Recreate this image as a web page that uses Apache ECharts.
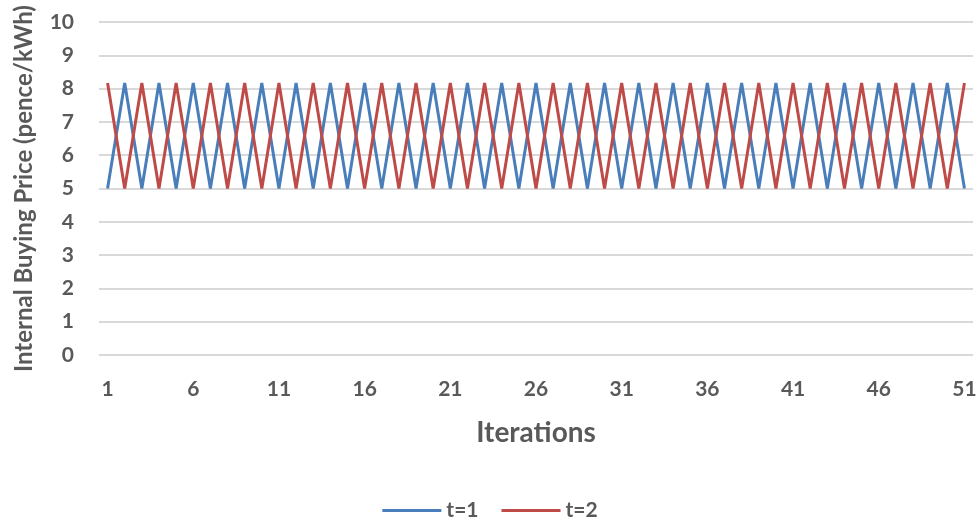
<!DOCTYPE html>
<html><head><meta charset="utf-8">
<script src="https://cdn.jsdelivr.net/npm/echarts@6/dist/echarts.min.js"></script>
<style>html,body{margin:0;padding:0;background:#fff}#c{width:980px;height:519px}</style>
</head><body><div id="c"></div>
<script>
const iterations = Array.from({length:51},(_,i)=>String(i+1));
const lowVal = 5, highVal = 8.17;
const t1 = iterations.map((_,i)=> i%2===0 ? lowVal : highVal);
const t2 = iterations.map((_,i)=> i%2===0 ? highVal : lowVal);
const seriesNames = ['t=1','t=2'];
const font = 'Lato, "Open Sans", sans-serif';
const chart = echarts.init(document.getElementById('c'));
chart.setOption({
  animation:false,
  grid:{left:99,right:7,top:22,bottom:164,containLabel:false,outerBoundsMode:'none'},
  legend:{top:500,left:'center',padding:0,itemWidth:59,itemHeight:3,itemGap:23,
    icon:'rect',
    textStyle:{color:'#595959',fontSize:21,fontWeight:'bold',fontFamily:font},
    data:seriesNames},
  xAxis:{type:'category',data:iterations,boundaryGap:true,
    name:'Iterations',nameLocation:'middle',nameGap:64,
    nameTextStyle:{color:'#595959',fontSize:28,fontWeight:'bold',fontFamily:font},
    axisLine:{show:false},axisTick:{show:false},
    axisLabel:{interval:4,color:'#595959',fontSize:21,fontWeight:'bold',fontFamily:font,margin:24}},
  yAxis:{type:'value',min:0,max:10,interval:1,
    name:'Internal Buying Price (pence/kWh)',nameLocation:'middle',nameGap:63,
    nameTextStyle:{color:'#595959',fontSize:24,fontWeight:'bold',fontFamily:font},
    axisLine:{show:false},axisTick:{show:false},
    splitLine:{lineStyle:{color:'#d9d9d9',width:2}},
    axisLabel:{color:'#595959',fontSize:21,fontWeight:'bold',fontFamily:font,margin:25}},
  series:[
    {name:seriesNames[0],type:'line',data:t1,symbol:'none',lineStyle:{color:'#4a7ebb',width:3},itemStyle:{color:'#4a7ebb'}},
    {name:seriesNames[1],type:'line',data:t2,symbol:'none',lineStyle:{color:'#be4b48',width:3},itemStyle:{color:'#be4b48'}}
  ]
});
</script></body></html>
